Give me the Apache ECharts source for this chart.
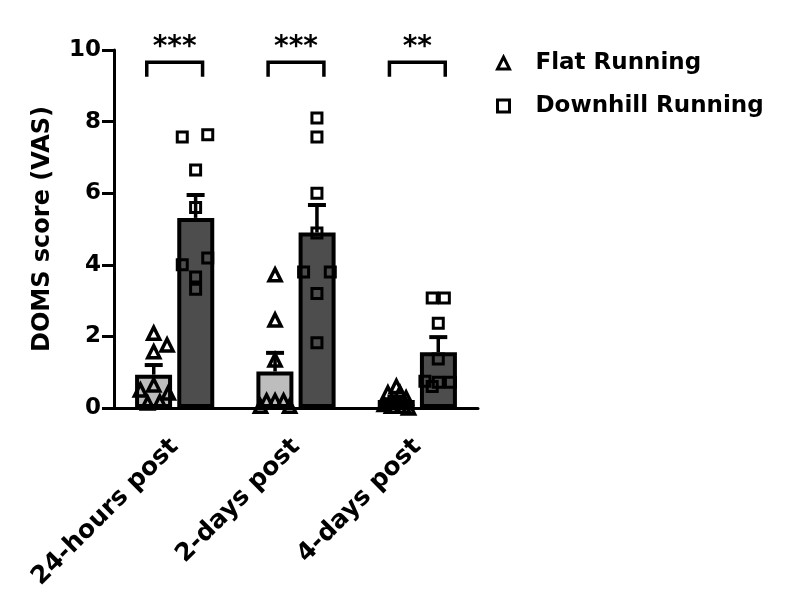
<!DOCTYPE html>
<html>
<head>
<meta charset="utf-8">
<script src="https://cdn.jsdelivr.net/npm/echarts@6/dist/echarts.min.js"></script>
<style>
html,body{margin:0;padding:0;background:#fff;}
#chart{width:788px;height:609px;}
</style>
</head>
<body>
<div id="chart"></div>
<script>
// ---- data ----
var categories = ['24-hours post', '2-days post', '4-days post'];
var seriesNames = ['Flat Running', 'Downhill Running'];
var flatMean = [0.93, 1.02, 0.22];
var flatSem = [0.27, 0.52, 0.10];
var downMean = [5.31, 4.90, 1.56];
var downSem = [0.64, 0.77, 0.42];
var flatPoints = [
  [2.09, 1.76, 1.57, 0.64, 0.50, 0.42, 0.14, 0.17],
  [3.72, 2.46, 1.34, 0.20, 0.20, 0.20, 0.05, 0.05],
  [0.60, 0.42, 0.42, 0.28, 0.10, 0.05, 0.05, 0.00]
];
var flatJitter = [
  [0, 0.11, 0, 0, -0.11, 0.12, -0.05, 0.05],
  [0, 0, 0, -0.07, 0, 0.07, -0.12, 0.12],
  [0, -0.07, 0.03, 0.08, -0.10, 0.06, -0.04, 0.10]
];
var downPoints = [
  [7.57, 7.63, 6.65, 5.60, 4.00, 4.19, 3.66, 3.32],
  [8.10, 7.57, 6.00, 4.89, 3.80, 3.80, 3.20, 1.82],
  [3.07, 3.07, 2.37, 1.37, 0.75, 0.72, 0.72, 0.60]
];
var downJitter = [
  [-0.11, 0.10, 0, 0, -0.11, 0.10, 0, 0],
  [0, 0, 0, 0, -0.11, 0.11, 0, 0],
  [-0.05, 0.05, 0, 0, -0.11, 0, 0.10, -0.05]
];
var sigLabels = ['***', '***', '**'];
var sigBracketTop = [9.66, 9.66, 9.66];
var sigBracketBottom = [9.25, 9.25, 9.25];
var sigTextY = 10.05;
var yTicks = {min: 0, max: 10, interval: 2};

// ---- layout constants ----
var barShift = 0.1726;   // offset of each bar centre from category centre (category units)
var bracketHalf = 0.23;
var FONT = 'DejaVu Sans';

function pointsData(points, jitter, shift) {
  var out = [];
  points.forEach(function (arr, i) {
    arr.forEach(function (v, j) { out.push([i + shift + jitter[i][j], v]); });
  });
  return out;
}
function errData(mean, sem, shift) {
  return mean.map(function (m, i) { return [i + shift, m, sem[i]]; });
}

var errRender = function (params, api) {
  var x = api.value(0), m = api.value(1), s = api.value(2);
  var p0 = api.coord([x, m]);
  var p1 = api.coord([x, m + s]);
  return {
    type: 'group',
    children: [
      {type: 'line', shape: {x1: p0[0], y1: p0[1], x2: p1[0], y2: p1[1]}, style: {stroke: '#000', lineWidth: 3.5}},
      {type: 'line', shape: {x1: p1[0] - 9, y1: p1[1], x2: p1[0] + 9, y2: p1[1]}, style: {stroke: '#000', lineWidth: 4}}
    ]
  };
};

var bracketRender = function (params, api) {
  var i = api.value(0), top = api.value(1), bot = api.value(2);
  var l = api.coord([i - bracketHalf, top]);
  var r = api.coord([i + bracketHalf, top]);
  var b = api.coord([i, bot]);
  var t = api.coord([i, sigTextY]);
  return {
    type: 'group',
    children: [
      {type: 'polyline', shape: {points: [[l[0], b[1]], [l[0], l[1]], [r[0], r[1]], [r[0], b[1]]]},
       style: {stroke: '#000', lineWidth: 3.5, fill: null}},
      {type: 'text', x: t[0], y: t[1],
       style: {text: sigLabels[params.dataIndex], fill: '#000', font: 'bold 28px "' + FONT + '"',
               textAlign: 'center', textVerticalAlign: 'middle'}}
    ]
  };
};

var chart = echarts.init(document.getElementById('chart'), null, {renderer: 'canvas'});
var option = {
  backgroundColor: '#fff',
  animation: false,
  grid: {left: 114, top: 50, width: 364, height: 358, containLabel: false},
  legend: {
    orient: 'vertical', left: 491, top: 45, itemWidth: 12, itemHeight: 12, itemGap: 17,
    data: seriesNames,
    itemStyle: {borderWidth: 3, borderColor: '#000', color: 'rgba(0,0,0,0)'},
    textStyle: {fontFamily: FONT, fontWeight: 'bold', fontSize: 23, color: '#000', lineHeight: 26, padding: [0, 0, 0, 21]}
  },
  xAxis: [
    {
      type: 'category', data: categories, gridIndex: 0,
      axisLine: {lineStyle: {color: '#000', width: 3}},
      axisTick: {alignWithLabel: true, length: 13, lineStyle: {color: '#000', width: 3}},
      axisLabel: {rotate: 45, margin: 35, color: '#000', fontFamily: FONT, fontWeight: 'bold', fontSize: 25},
      splitLine: {show: false}
    },
    {
      type: 'value', min: -0.5, max: 2.5, gridIndex: 0, show: false
    }
  ],
  yAxis: {
    type: 'value', min: yTicks.min, max: yTicks.max, interval: yTicks.interval,
    name: 'DOMS score (VAS)', nameLocation: 'middle', nameGap: 59,
    nameTextStyle: {fontFamily: FONT, fontWeight: 'bold', fontSize: 24, color: '#000'},
    axisLine: {show: true, onZero: false, lineStyle: {color: '#000', width: 3}},
    axisTick: {show: true, length: 12, lineStyle: {color: '#000', width: 3}},
    axisLabel: {margin: 13, color: '#000', fontFamily: FONT, fontWeight: 'bold', fontSize: 23},
    splitLine: {show: false}
  },
  series: [
    {
      type: 'bar', name: 'flatBar', data: flatMean, barWidth: 37, barGap: '14%', z: 2,
      itemStyle: {color: '#bdbdbd', borderColor: '#000', borderWidth: 4}
    },
    {
      type: 'bar', name: 'downBar', data: downMean, barWidth: 37, z: 2,
      itemStyle: {color: '#4d4d4d', borderColor: '#000', borderWidth: 4}
    },
    {
      type: 'custom', xAxisIndex: 1, z: 3, clip: false, renderItem: errRender,
      data: errData(flatMean, flatSem, -barShift)
    },
    {
      type: 'custom', xAxisIndex: 1, z: 3, clip: false, renderItem: errRender,
      data: errData(downMean, downSem, barShift)
    },
    {
      type: 'scatter', name: seriesNames[0], xAxisIndex: 1, symbol: 'triangle', symbolSize: 12, z: 4,
      itemStyle: {color: 'rgba(0,0,0,0)', borderColor: '#000', borderWidth: 3.5, opacity: 1},
      data: pointsData(flatPoints, flatJitter, -barShift)
    },
    {
      type: 'scatter', name: seriesNames[1], xAxisIndex: 1, symbol: 'rect', symbolSize: 10, z: 4,
      itemStyle: {color: 'rgba(0,0,0,0)', borderColor: '#000', borderWidth: 3, opacity: 1},
      data: pointsData(downPoints, downJitter, barShift)
    },
    {
      type: 'custom', xAxisIndex: 1, z: 5, clip: false, renderItem: bracketRender,
      data: categories.map(function (c, i) { return [i, sigBracketTop[i], sigBracketBottom[i]]; })
    }
  ]
};
chart.setOption(option);
</script>
</body>
</html>
